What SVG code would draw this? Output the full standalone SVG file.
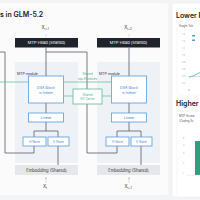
<svg xmlns="http://www.w3.org/2000/svg" width="200" height="200" viewBox="0 0 200 200">
<defs>
<style>
text{font-family:Inter,"Liberation Sans",sans-serif}
.panel{fill:#eef1f6}
.head{fill:#1f232b}
.headt{fill:#fff;font-size:4px;text-anchor:middle}
.box{fill:#fff;stroke:#5b9be0;stroke-width:0.8}
.bt{fill:#3b82d6;font-size:3.6px;text-anchor:middle}
.bs{fill:#3b82d6;font-size:2.8px;text-anchor:middle}
.emb{fill:#e6e7ea}
.embt{fill:#333;font-size:4.2px;text-anchor:middle}
.con{fill:none;stroke:#5a5d63;stroke-width:0.8}
.gcon{fill:none;stroke:#5fb893;stroke-width:0.7}
.gbox{fill:#fff;stroke:#5fb893;stroke-width:0.8}
.gt{fill:#4caf85;font-size:3px;text-anchor:middle}
.lab{fill:#333;font-size:4.5px;text-anchor:middle}
.sub{font-size:3px}
.mod{fill:#333;font-size:3.5px}
.title{fill:#222;font-size:7px;font-weight:600}
.small{fill:#555;font-size:2.8px}
.tick{fill:#aaa;font-size:2.2px}
</style>
<marker id="ah" viewBox="0 0 6 6" refX="3" refY="3" markerWidth="4" markerHeight="4" orient="auto"><path d="M0,0L6,3L0,6z" fill="#c8cace"/></marker>
</defs>
<rect width="200" height="200" fill="#f3f4f6"/>
<rect x="-5" y="3" width="173" height="192" rx="3" fill="#fbfbfc"/>
<rect x="172" y="3" width="35" height="194" rx="3" fill="#fff" stroke="#e6e7ea" stroke-width="0.5"/>
<text x="0" y="16.5" class="title">s in GLM-5.2</text>

<g id="col1">
<rect class="panel" x="15" y="62" width="63" height="101"/>
<rect class="head" x="15" y="38" width="63" height="9.5"/>
<text class="headt" x="46.5" y="44.2">MTP Head (Shared)</text>
<text class="mod" x="17" y="74.5">MTP module</text>
<rect class="emb" x="15" y="165" width="63" height="10"/>
<text class="embt" x="46.5" y="171.5">Embedding (Shared)</text>
</g>
<g id="col2">
<rect class="panel" x="97" y="62" width="63" height="101"/>
<rect class="head" x="97" y="38" width="63" height="9.5"/>
<text class="headt" x="128.5" y="44.2">MTP Head (Shared)</text>
<text class="mod" x="99" y="74.5">MTP module</text>
<rect class="emb" x="97" y="165" width="63" height="10"/>
<text class="embt" x="128.5" y="171.5">Embedding (Shared)</text>
</g>

<g id="connectors">
<path class="con" d="M46,47.5V76M46,103V113M46,122V131M34,131H58M34,131V137M58,131V137M58,146V165"/>
<path class="con" d="M129,47.5V76M129,103V113M129,122V131M117,131H141M117,131V137M141,131V137M141,146V165"/>
<path class="con" d="M46,52H87V153H117V146"/>
<path class="con" d="M34,146V153H5V52H-2"/>
<path fill="none" stroke="#d0d2d6" stroke-width="0.7" d="M46,183V178" marker-end="url(#ah)"/>
<path fill="none" stroke="#d0d2d6" stroke-width="0.7" d="M129,183V178" marker-end="url(#ah)"/>
<path fill="none" stroke="#d0d2d6" stroke-width="0.7" d="M46,37V34"/>
<path fill="none" stroke="#d0d2d6" stroke-width="0.7" d="M129,37V34"/>
<path class="gcon" d="M63.5,82H111.5M63.5,96H73M102,96H111.5M-2,82H28.5"/>
</g>

<g id="dsa1"><rect class="box" x="28.5" y="76" width="35" height="27"/><text class="bt" x="46" y="89">DSA Block</text><text class="bs" x="46" y="93.5">w/ Indexer</text></g>
<g id="linear1"><rect class="box" x="28.5" y="113" width="35" height="9"/><text class="bt" x="46" y="118.8">Linear</text></g>
<g id="hnorm1"><rect class="box" x="23" y="137" width="23" height="9"/><text class="bs" x="34.5" y="142.5">H-Norm</text></g>
<g id="enorm1"><rect class="box" x="48" y="137" width="21" height="9"/><text class="bs" x="58.5" y="142.5">E-Norm</text></g>

<g id="dsa2"><rect class="box" x="111.5" y="76" width="35" height="27"/><text class="bt" x="129" y="89">DSA Block</text><text class="bs" x="129" y="93.5">w/ Indexer</text></g>
<g id="linear2"><rect class="box" x="111.5" y="113" width="35" height="9"/><text class="bt" x="129" y="118.8">Linear</text></g>
<g id="hnorm2"><rect class="box" x="106" y="137" width="23" height="9"/><text class="bs" x="117.5" y="142.5">H-Norm</text></g>
<g id="enorm2"><rect class="box" x="131" y="137" width="21" height="9"/><text class="bs" x="141.5" y="142.5">E-Norm</text></g>

<g id="shared-idx"><text class="gt" x="87.5" y="75">Shared</text><text class="gt" x="87.5" y="79.5">top-K indices</text></g>
<g id="kvcache"><rect class="gbox" x="73" y="89" width="29" height="15"/><text class="gt" x="87.5" y="95.5">Shared</text><text class="gt" x="87.5" y="100">KV Cache</text></g>

<g id="labels">
<text class="lab" x="45" y="29">X<tspan class="sub" dy="1">t+1</tspan></text>
<text class="lab" x="128" y="29">X<tspan class="sub" dy="1">t+2</tspan></text>
<text class="lab" x="45" y="188">X<tspan class="sub" dy="1">t</tspan></text>
<text class="lab" x="128" y="188">X<tspan class="sub" dy="1">t+1</tspan></text>
</g>

<g id="right">
<text class="title" x="176" y="17.5">Lower F</text>
<rect x="177" y="21" width="30" height="74" rx="1.5" fill="#fff" stroke="#eceef0" stroke-width="0.5"/>
<text class="small" x="179" y="27">Single-Tok</text>
<g class="tick"><text x="182" y="35">1.6</text><text x="182" y="42">1.4</text><text x="182" y="49">1.2</text><text x="182" y="56">1.0</text><text x="182" y="63">0.8</text><text x="182" y="70">0.6</text><text x="182" y="77">0.4</text><text x="182" y="84">0.2</text></g>
<rect x="192" y="35" width="3" height="1.5" fill="#49b38a"/><rect x="192" y="39.5" width="3" height="1.5" fill="#5b9be0"/>
<path d="M189,77L193,76L200,72.5" stroke="#49b38a" stroke-width="0.8" fill="none"/>
<path d="M189,76.5H200" stroke="#9cc5ec" stroke-width="0.5" fill="none"/>
<rect x="188" y="89" width="2" height="2" fill="#ddd"/>
<text class="title" x="176" y="106">Higher I</text>
<rect x="177" y="111" width="30" height="86" rx="1.5" fill="#fff" stroke="#eceef0" stroke-width="0.5"/>
<text class="small" x="179" y="117">MTP Accep</text>
<text class="small" x="179" y="122">(Coding Sc</text>
<g class="tick"><text x="183" y="139">5</text><text x="183" y="146">4</text><text x="183" y="154">3</text><text x="183" y="164">2</text><text x="183" y="174">1</text></g>
<rect x="195" y="141" width="6" height="34" fill="#2f9e7c"/>
<path d="M186,175.3H200" stroke="#e1e2e5" stroke-width="0.5"/>
</g>
</svg>
